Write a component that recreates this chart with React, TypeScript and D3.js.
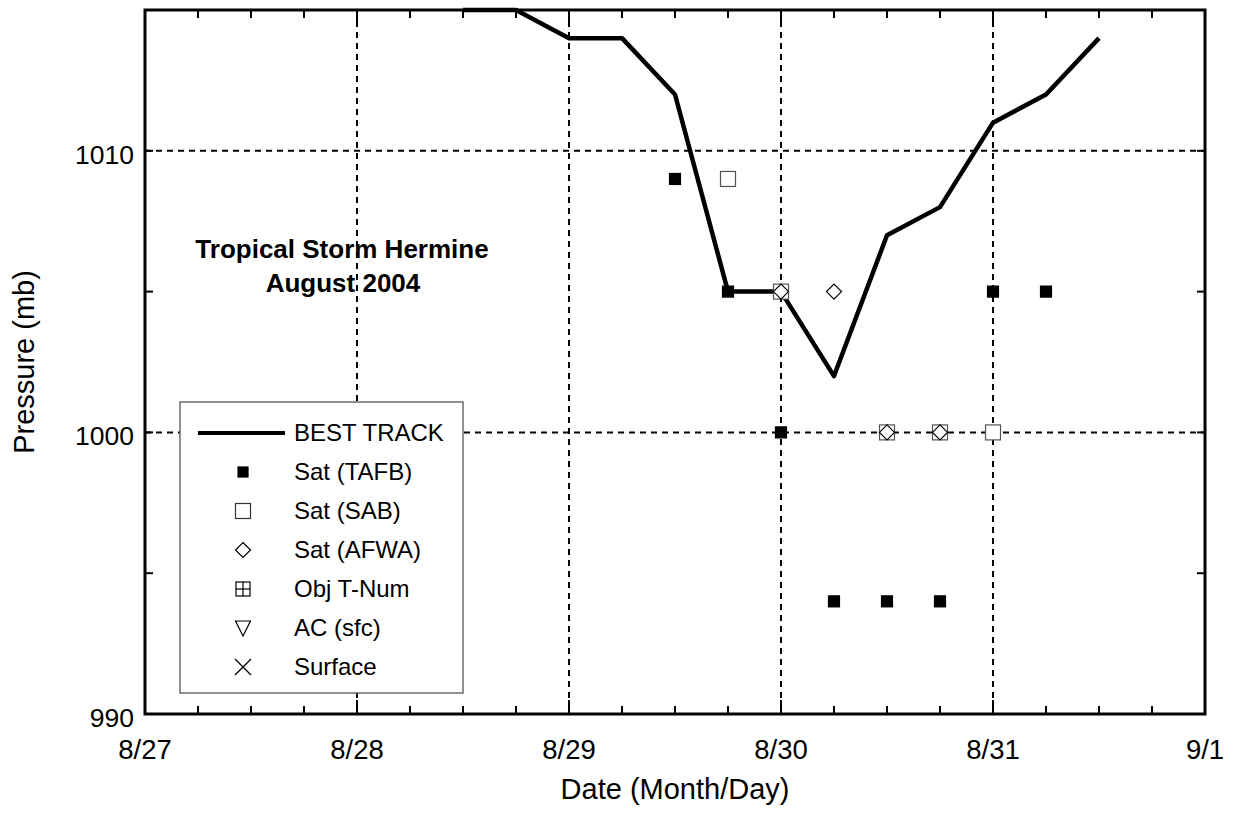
import React from "react";
import * as d3 from "d3";

const bestTrackDays = [28.5, 28.75, 29, 29.25, 29.5, 29.75, 30, 30.25, 30.5, 30.75, 31, 31.25, 31.5];
const bestTrackPressure = [1015, 1015, 1014, 1014, 1012, 1005, 1005, 1002, 1007, 1008, 1011, 1012, 1014];

const tafbDays = [29.5, 29.75, 30, 30.25, 30.5, 30.75, 31, 31.25];
const tafbPressure = [1009, 1005, 1000, 994, 994, 994, 1005, 1005];

const sabDays = [29.75, 30, 30.5, 30.75, 31];
const sabPressure = [1009, 1005, 1000, 1000, 1000];

const afwaDays = [30, 30.25, 30.5, 30.75];
const afwaPressure = [1005, 1005, 1000, 1000];

const xTickDays = [27, 28, 29, 30, 31, 32];
const xTickLabels = ["8/27", "8/28", "8/29", "8/30", "8/31", "9/1"];
const yTickValues = [990, 1000, 1010];

const legendLabels = ["BEST TRACK", "Sat (TAFB)", "Sat (SAB)", "Sat (AFWA)", "Obj T-Num", "AC (sfc)", "Surface"];

const W = 1237, H = 829;
const L = 145, R = 1205, T = 10, B = 714;
const FONT = "Liberation Sans, Arial, sans-serif";

export default function App() {
  const x = d3.scaleLinear().domain([27, 32]).range([L, R]);
  const y = d3.scaleLinear().domain([990, 1015]).range([B, T]);
  const line = d3.line<number>().x((_, i) => x(bestTrackDays[i])).y((d) => y(d));

  const minorX = d3.range(27, 32.001, 0.25);
  const minorY = d3.range(990, 1015.001, 5);

  const sq = (cx: number, cy: number, s: number, fill: string, stroke: string, key: string) => (
    <rect key={key} x={cx - s / 2} y={cy - s / 2} width={s} height={s} fill={fill} stroke={stroke} strokeWidth={1.2} />
  );
  const diamond = (cx: number, cy: number, r: number, key: string) => (
    <path key={key} d={`M${cx},${cy - r}L${cx + r},${cy}L${cx},${cy + r}L${cx - r},${cy}Z`} fill="#fff" stroke="#000" strokeWidth={1.2} />
  );

  const lx0 = 180, ly0 = 402, lw = 283, lh = 291;
  const rowY = (i: number) => 433 + i * 39;
  const symX = 243;

  return (
    <svg width={W} height={H} style={{ display: "block", position: "absolute", left: 0, top: 0 }} fontFamily={FONT}>
      <rect x={0} y={0} width={W} height={H} fill="#fff" />
      {/* grid */}
      {xTickDays.slice(1, -1).map((d) => (
        <line key={"gx" + d} x1={x(d)} x2={x(d)} y1={T} y2={B} stroke="#000" strokeWidth={2} strokeDasharray="6,5" />
      ))}
      {[1000, 1010].map((v) => (
        <line key={"gy" + v} x1={L} x2={R} y1={y(v)} y2={y(v)} stroke="#000" strokeWidth={2} strokeDasharray="6,5" />
      ))}
      {/* ticks */}
      {minorX.map((d) => {
        const major = Math.abs(d - Math.round(d)) < 1e-6;
        const len = major ? 14 : 8;
        return (
          <g key={"tx" + d}>
            <line x1={x(d)} x2={x(d)} y1={B} y2={B - len} stroke="#000" strokeWidth={2} />
            <line x1={x(d)} x2={x(d)} y1={T} y2={T + len} stroke="#000" strokeWidth={2} />
          </g>
        );
      })}
      {minorY.map((v) => (
        <g key={"ty" + v}>
          <line x1={L} x2={L + 8} y1={y(v)} y2={y(v)} stroke="#000" strokeWidth={2} />
          <line x1={R} x2={R - 8} y1={y(v)} y2={y(v)} stroke="#000" strokeWidth={2} />
        </g>
      ))}
      {/* frame */}
      <rect x={L} y={T} width={R - L} height={B - T} fill="none" stroke="#000" strokeWidth={3} />
      {/* best track */}
      <path d={line(bestTrackPressure) || ""} fill="none" stroke="#000" strokeWidth={4.5} strokeLinejoin="round" />
      {/* markers */}
      {sabDays.map((d, i) => sq(x(d), y(sabPressure[i]), 15, "#fff", "#555", "sab" + i))}
      {afwaDays.map((d, i) => diamond(x(d), y(afwaPressure[i]), 7.5, "afwa" + i))}
      {tafbDays.map((d, i) => sq(x(d), y(tafbPressure[i]), 11, "#000", "#000", "tafb" + i))}
      {/* title */}
      <text x={342} y={258} textAnchor="middle" fontSize={26} fontWeight="bold">Tropical Storm Hermine</text>
      <text x={343} y={292} textAnchor="middle" fontSize={26} fontWeight="bold">August 2004</text>
      {/* legend */}
      <rect x={lx0} y={ly0} width={lw} height={lh} fill="#fff" stroke="#555" strokeWidth={1.3} />
      <line x1={198} x2={285} y1={rowY(0)} y2={rowY(0)} stroke="#000" strokeWidth={4} />
      {sq(symX, rowY(1), 10, "#000", "#000", "lg1")}
      {sq(symX, rowY(2), 15, "#fff", "#333", "lg2")}
      {diamond(symX, rowY(3), 7.5, "lg3")}
      <g stroke="#000" strokeWidth={1.2} fill="none">
        <rect x={symX - 7} y={rowY(4) - 7} width={14} height={14} />
        <line x1={symX} x2={symX} y1={rowY(4) - 7} y2={rowY(4) + 7} />
        <line x1={symX - 7} x2={symX + 7} y1={rowY(4)} y2={rowY(4)} />
        <path d={`M${symX - 7.5},${rowY(5) - 7}L${symX + 7.5},${rowY(5) - 7}L${symX},${rowY(5) + 8}Z`} />
        <line x1={symX - 8} x2={symX + 8} y1={rowY(6) - 8} y2={rowY(6) + 8} />
        <line x1={symX - 8} x2={symX + 8} y1={rowY(6) + 8} y2={rowY(6) - 8} />
      </g>
      {legendLabels.map((s, i) => (
        <text key={s} x={294} y={rowY(i) + 8} fontSize={24}>{s}</text>
      ))}
      {/* axis labels */}
      {yTickValues.map((v) => (
        <text key={"yl" + v} x={134} y={y(v) + 13} textAnchor="end" fontSize={26.5}>{v}</text>
      ))}
      {xTickDays.map((d, i) => (
        <text key={"xl" + d} x={x(d)} y={759} textAnchor="middle" fontSize={27.5}>{xTickLabels[i]}</text>
      ))}
      <text x={675} y={799} textAnchor="middle" fontSize={29}>Date (Month/Day)</text>
      <text transform={`translate(34,362) rotate(-90)`} textAnchor="middle" fontSize={29}>Pressure (mb)</text>
    </svg>
  );
}
